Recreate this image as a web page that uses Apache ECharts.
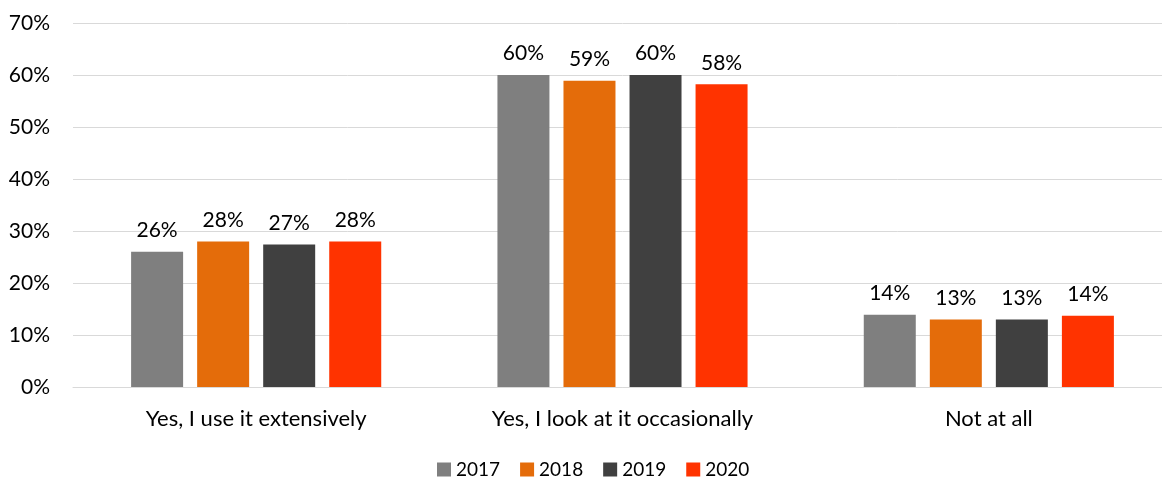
<!DOCTYPE html>
<html>
<head>
<meta charset="utf-8">
<script src="https://cdn.jsdelivr.net/npm/echarts@6/dist/echarts.min.js"></script>
<style>
  html, body { margin: 0; padding: 0; background: #fff; overflow: hidden; }
  /* the plot area runs a few pixels past the right edge of the page */
  #chart { width: 1172px; height: 484px; }
</style>
</head>
<body>
<div id="chart"></div>
<script>
// Survey answers by year (share of respondents, %)
const categories = ['Yes, I use it extensively', 'Yes, I look at it occasionally', 'Not at all'];
const years = ['2017', '2018', '2019', '2020'];
const values2017 = [26.0, 60.0, 13.9];
const values2018 = [28.0, 58.9, 13.0];
const values2019 = [27.4, 60.0, 13.0];
const values2020 = [28.0, 58.2, 13.7];
const yTicks = [0, 10, 20, 30, 40, 50, 60, 70];

const seriesValues = [values2017, values2018, values2019, values2020];
const colors = ['#7f7f7f', '#e46c0a', '#404040', '#ff3300'];
const font = 'Lato, "Open Sans", sans-serif';

const chart = echarts.init(document.getElementById('chart'));
chart.setOption({
  animation: false,
  textStyle: { fontFamily: font },
  grid: { left: 73, right: 0, top: 23, bottom: 97, containLabel: false },
  legend: {
    bottom: 0,
    left: 432,
    itemWidth: 14,
    itemHeight: 14,
    itemGap: 20,
    icon: 'rect',
    textStyle: { fontFamily: font, fontSize: 19, color: '#000' },
    data: years
  },
  xAxis: {
    type: 'category',
    data: categories,
    axisTick: { show: false },
    axisLine: { lineStyle: { color: '#d9d9d9', width: 1 } },
    axisLabel: { fontFamily: font, fontSize: 22, color: '#000', margin: 21 }
  },
  yAxis: {
    type: 'value',
    min: yTicks[0],
    max: yTicks[yTicks.length - 1],
    interval: 10,
    axisLine: { show: false },
    axisTick: { show: false },
    splitLine: { lineStyle: { color: '#d9d9d9', width: 1 } },
    axisLabel: {
      fontFamily: font, fontSize: 21, color: '#000', margin: 23,
      formatter: v => v + '%'
    }
  },
  series: years.map((y, i) => ({
    name: y,
    type: 'bar',
    data: seriesValues[i],
    barWidth: 52,
    barGap: '27%',
    itemStyle: { color: colors[i] },
    label: {
      show: true,
      position: 'top',
      distance: 11,
      fontFamily: font,
      fontSize: 21,
      color: '#000',
      formatter: p => Math.round(p.value) + '%'
    }
  }))
});
</script>
</body>
</html>
